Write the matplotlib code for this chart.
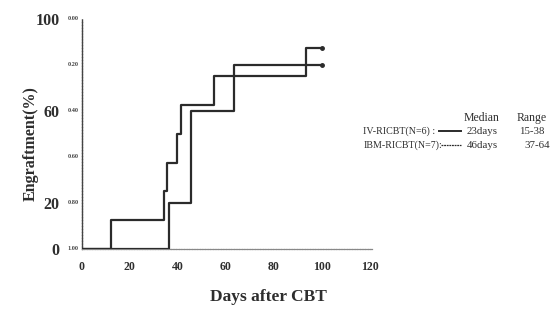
import matplotlib
matplotlib.use("Agg")
import matplotlib.pyplot as plt
from matplotlib.lines import Line2D
from matplotlib.transforms import blended_transform_factory

# Data
iv_days = [0, 12, 34.3, 35.4, 39.5, 41.4, 55, 93.5, 100]
iv_pct = [0, 12.5, 25, 37.5, 50, 62.5, 75, 87.5, 87.5]
ibm_days = [0, 36.5, 45.7, 63.6, 100]
ibm_pct = [0, 20, 60, 80, 80]

x_ticks = [0, 20, 40, 60, 80, 100, 120]
y_big_ticks = [0, 20, 60, 100]
y_small_ticks = [0, 20, 40, 60, 80, 100]
y_small_labels = ["1.00", "0.80", "0.60", "0.40", "0.20", "0.00"]

legend_rows = [
    ("IV-RICBT(N=6) :", "23days", "15-38"),
    ("IBM-RICBT(N=7):", "46days", "37-64"),
]

serif = "Liberation Serif"
line_color = "#2b2b2b"
text_color = "#2e2e2e"

fig = plt.figure(figsize=(5.53, 3.2), dpi=100)
ax = fig.add_axes([0.148, 0.222, 0.525, 0.719])

ax.step(iv_days, iv_pct, where="post", color=line_color, lw=1.6, zorder=3)
ax.step(ibm_days, ibm_pct, where="post", color=line_color, lw=1.6, zorder=3)
ax.plot([iv_days[-1]], [iv_pct[-1]], "o", color=line_color, ms=2.5)
ax.plot([ibm_days[-1]], [ibm_pct[-1]], "o", color=line_color, ms=2.5)

ax.set_xlim(0, 121)
ax.set_ylim(0, 100)
for s in ["top", "right"]:
    ax.spines[s].set_visible(False)
ax.spines["left"].set_color("#444444")
ax.spines["left"].set_linestyle((0, (1.5, 0.6)))
ax.spines["left"].set_linewidth(1.0)
ax.spines["bottom"].set_color("#888888")
ax.spines["bottom"].set_linestyle((0, (1.5, 0.6)))
ax.spines["bottom"].set_linewidth(0.9)

ax.set_xticks(x_ticks)
ax.set_xticklabels([str(v) for v in x_ticks], fontfamily=serif,
                   fontweight="bold", fontsize=8.5, color=text_color)
ax.set_yticks(y_big_ticks)
ax.set_yticklabels([str(v) for v in y_big_ticks], fontfamily=serif,
                   fontweight="bold", fontsize=11.5, color=text_color)
ax.tick_params(axis="x", length=0, pad=9)
ax.tick_params(axis="y", length=0, pad=16)

trans = blended_transform_factory(ax.transAxes, ax.transData)
for v, lab in zip(y_small_ticks, y_small_labels):
    ax.text(-0.01, v, lab, transform=trans, ha="right", va="center",
            fontsize=4.5, fontfamily=serif, fontweight="bold", color="#444444")

fig.text(0.055, 0.55, "Engraftment(%)", rotation=90, ha="center", va="center",
         fontfamily=serif, fontweight="bold", fontsize=11.5, color=text_color)
fig.text(0.485, 0.072, "Days after CBT", ha="center", va="center",
         fontfamily=serif, fontweight="bold", fontsize=12.5, color=text_color)

# legend-like table
fs = 7.2
fig.text(0.871, 1 - 118 / 320, "Median", ha="center", va="center",
         fontfamily=serif, fontsize=8.5, color=text_color)
fig.text(0.962, 1 - 118 / 320, "Range", ha="center", va="center",
         fontfamily=serif, fontsize=8.5, color=text_color)
row_y = [1 - 131 / 320, 1 - 145 / 320]
styles = [dict(lw=1.4, ls="-"), dict(lw=0.9, ls=(0, (1.5, 0.6)))]
line_x = [[0.793, 0.833], [0.797, 0.834]]
for (name, med, rng), y, st, lx in zip(legend_rows, row_y, styles, line_x):
    fig.text(0.657, y, name, ha="left", va="center", fontfamily=serif,
             fontsize=fs, color=text_color)
    fig.add_artist(Line2D(lx, [y, y], transform=fig.transFigure,
                          color=line_color, **st))
    fig.text(0.872, y, med, ha="center", va="center", fontfamily=serif,
             fontsize=7.8, color=text_color)
fig.text(0.962, row_y[0], legend_rows[0][2], ha="center", va="center",
         fontfamily=serif, fontsize=7.8, color=text_color)
fig.text(0.972, row_y[1], legend_rows[1][2], ha="center", va="center",
         fontfamily=serif, fontsize=7.8, color=text_color)

fig.savefig("out.png", dpi=100)
